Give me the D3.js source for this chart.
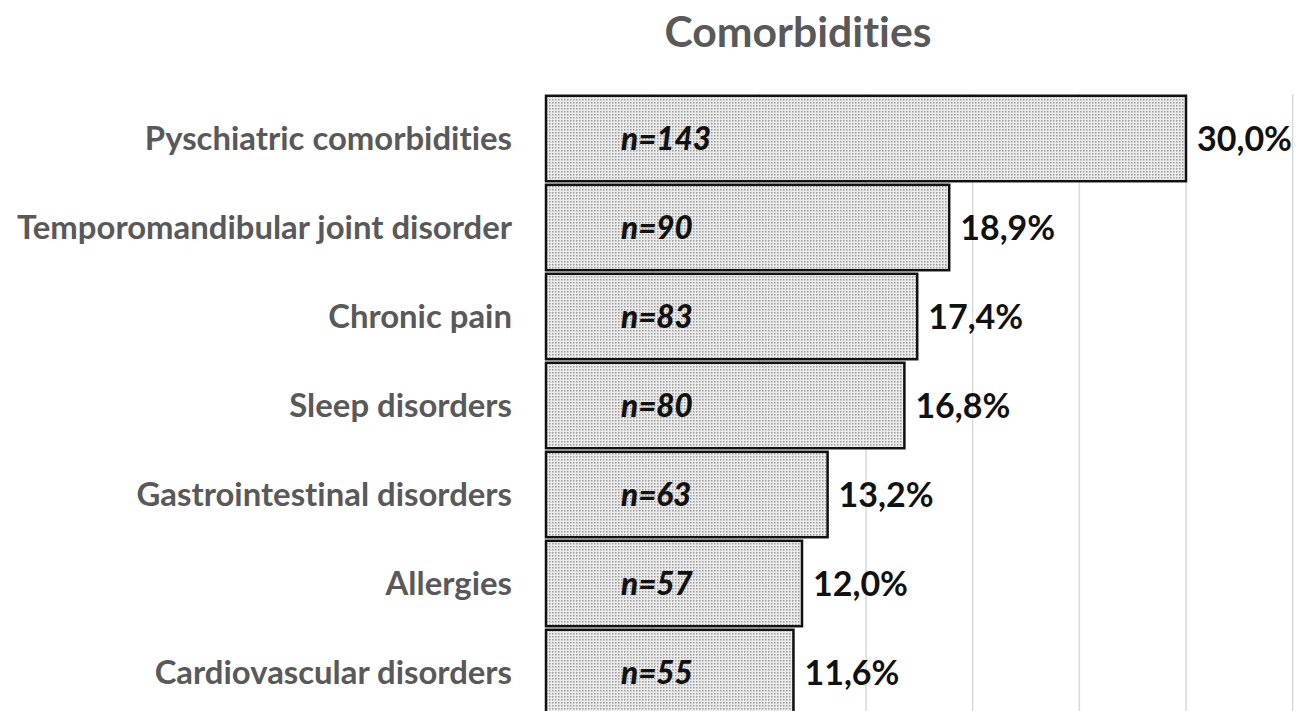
<!DOCTYPE html>
<html>
<head>
<meta charset="utf-8">
<script src="https://cdn.jsdelivr.net/npm/d3@7"></script>
<style>
  html, body { margin: 0; padding: 0; background: #fff; }
  svg { display: block; font-family: Lato, "Open Sans", sans-serif; font-variant-ligatures: none; font-feature-settings: "liga" 0, "clig" 0; }
</style>
</head>
<body>
<svg id="chart" width="1296" height="711"></svg>
<script>
const title = "Comorbidities";
const categories = [
  "Pyschiatric comorbidities",
  "Temporomandibular joint disorder",
  "Chronic pain",
  "Sleep disorders",
  "Gastrointestinal disorders",
  "Allergies",
  "Cardiovascular disorders"
];
const percents = [30.0, 18.9, 17.4, 16.8, 13.2, 12.0, 11.6];
const counts = [143, 90, 83, 80, 63, 57, 55];
const gridTicks = [5, 10, 15, 20, 25, 30, 35];

const svg = d3.select("#chart");
const W = 1296, H = 711;

// pattern for dotted fill
const defs = svg.append("defs");
const pat = defs.append("pattern").attr("id", "dots")
  .attr("patternUnits", "userSpaceOnUse").attr("width", 3).attr("height", 3);
pat.append("rect").attr("width", 3).attr("height", 3).attr("fill", "#ebebeb");
pat.append("rect").attr("x", 0).attr("y", 0).attr("width", 1.5).attr("height", 1.5).attr("fill", "#9c9c9c");

const x = d3.scaleLinear().domain([0, 35]).range([546, 546 + 35 * (640 / 30)]);
const step = 89;
const y = d3.scaleBand().domain(categories)
  .range([94, 94 + step * categories.length])
  .paddingInner(0.04).paddingOuter(0.02);

// gridlines
svg.append("g").selectAll("line").data(gridTicks).join("line")
  .attr("x1", d => x(d)).attr("x2", d => x(d))
  .attr("y1", 94).attr("y2", H)
  .attr("stroke", "#d9d9d9").attr("stroke-width", 1.5);

// bars
svg.append("g").selectAll("rect").data(categories).join("rect")
  .attr("x", x(0))
  .attr("y", d => y(d))
  .attr("width", (d, i) => x(percents[i]) - x(0))
  .attr("height", y.bandwidth())
  .attr("fill", "url(#dots)")
  .attr("stroke", "#111")
  .attr("stroke-width", 2.5);

function fitSize(text, weight, style, targetW, base) {
  const t = svg.append("text").attr("font-size", base).attr("font-weight", weight)
    .attr("font-style", style).text(text);
  const w = t.node().getComputedTextLength();
  t.remove();
  return base * targetW / w;
}
const CAP = 0.36;

// title
const titleFs = fitSize(title, 700, "normal", 267, 40);
svg.append("text").attr("x", 798).attr("y", 47)
  .attr("text-anchor", "middle").attr("font-size", titleFs)
  .attr("font-weight", 700).attr("fill", "#595959").text(title);

// category labels
const catFs = fitSize(categories[1], 700, "normal", 495, 26);
svg.append("g").selectAll("text").data(categories).join("text")
  .attr("x", 512)
  .attr("y", d => y(d) + y.bandwidth() / 2 + catFs * CAP)
  .attr("text-anchor", "end")
  .attr("font-size", catFs).attr("font-weight", 700)
  .attr("fill", "#595959").text(d => d);

// n labels
const nFs = fitSize("n=143", 900, "italic", 90, 28);
svg.append("g").selectAll("text").data(categories).join("text")
  .attr("x", 621)
  .attr("y", d => y(d) + y.bandwidth() / 2 + nFs * CAP)
  .attr("font-size", nFs).attr("font-weight", 900).attr("font-style", "italic")
  .attr("fill", "#111").text((d, i) => "n=" + counts[i]);

// value labels
const fmt = v => v.toFixed(1).replace(".", ",") + "%";
const vFs = fitSize("30,0%", 700, "normal", 95, 32);
svg.append("g").selectAll("text").data(categories).join("text")
  .attr("x", (d, i) => x(percents[i]) + 11)
  .attr("y", d => y(d) + y.bandwidth() / 2 + vFs * CAP)
  .attr("font-size", vFs).attr("font-weight", 700)
  .attr("fill", "#111").text((d, i) => fmt(percents[i]));
</script>
</body>
</html>
